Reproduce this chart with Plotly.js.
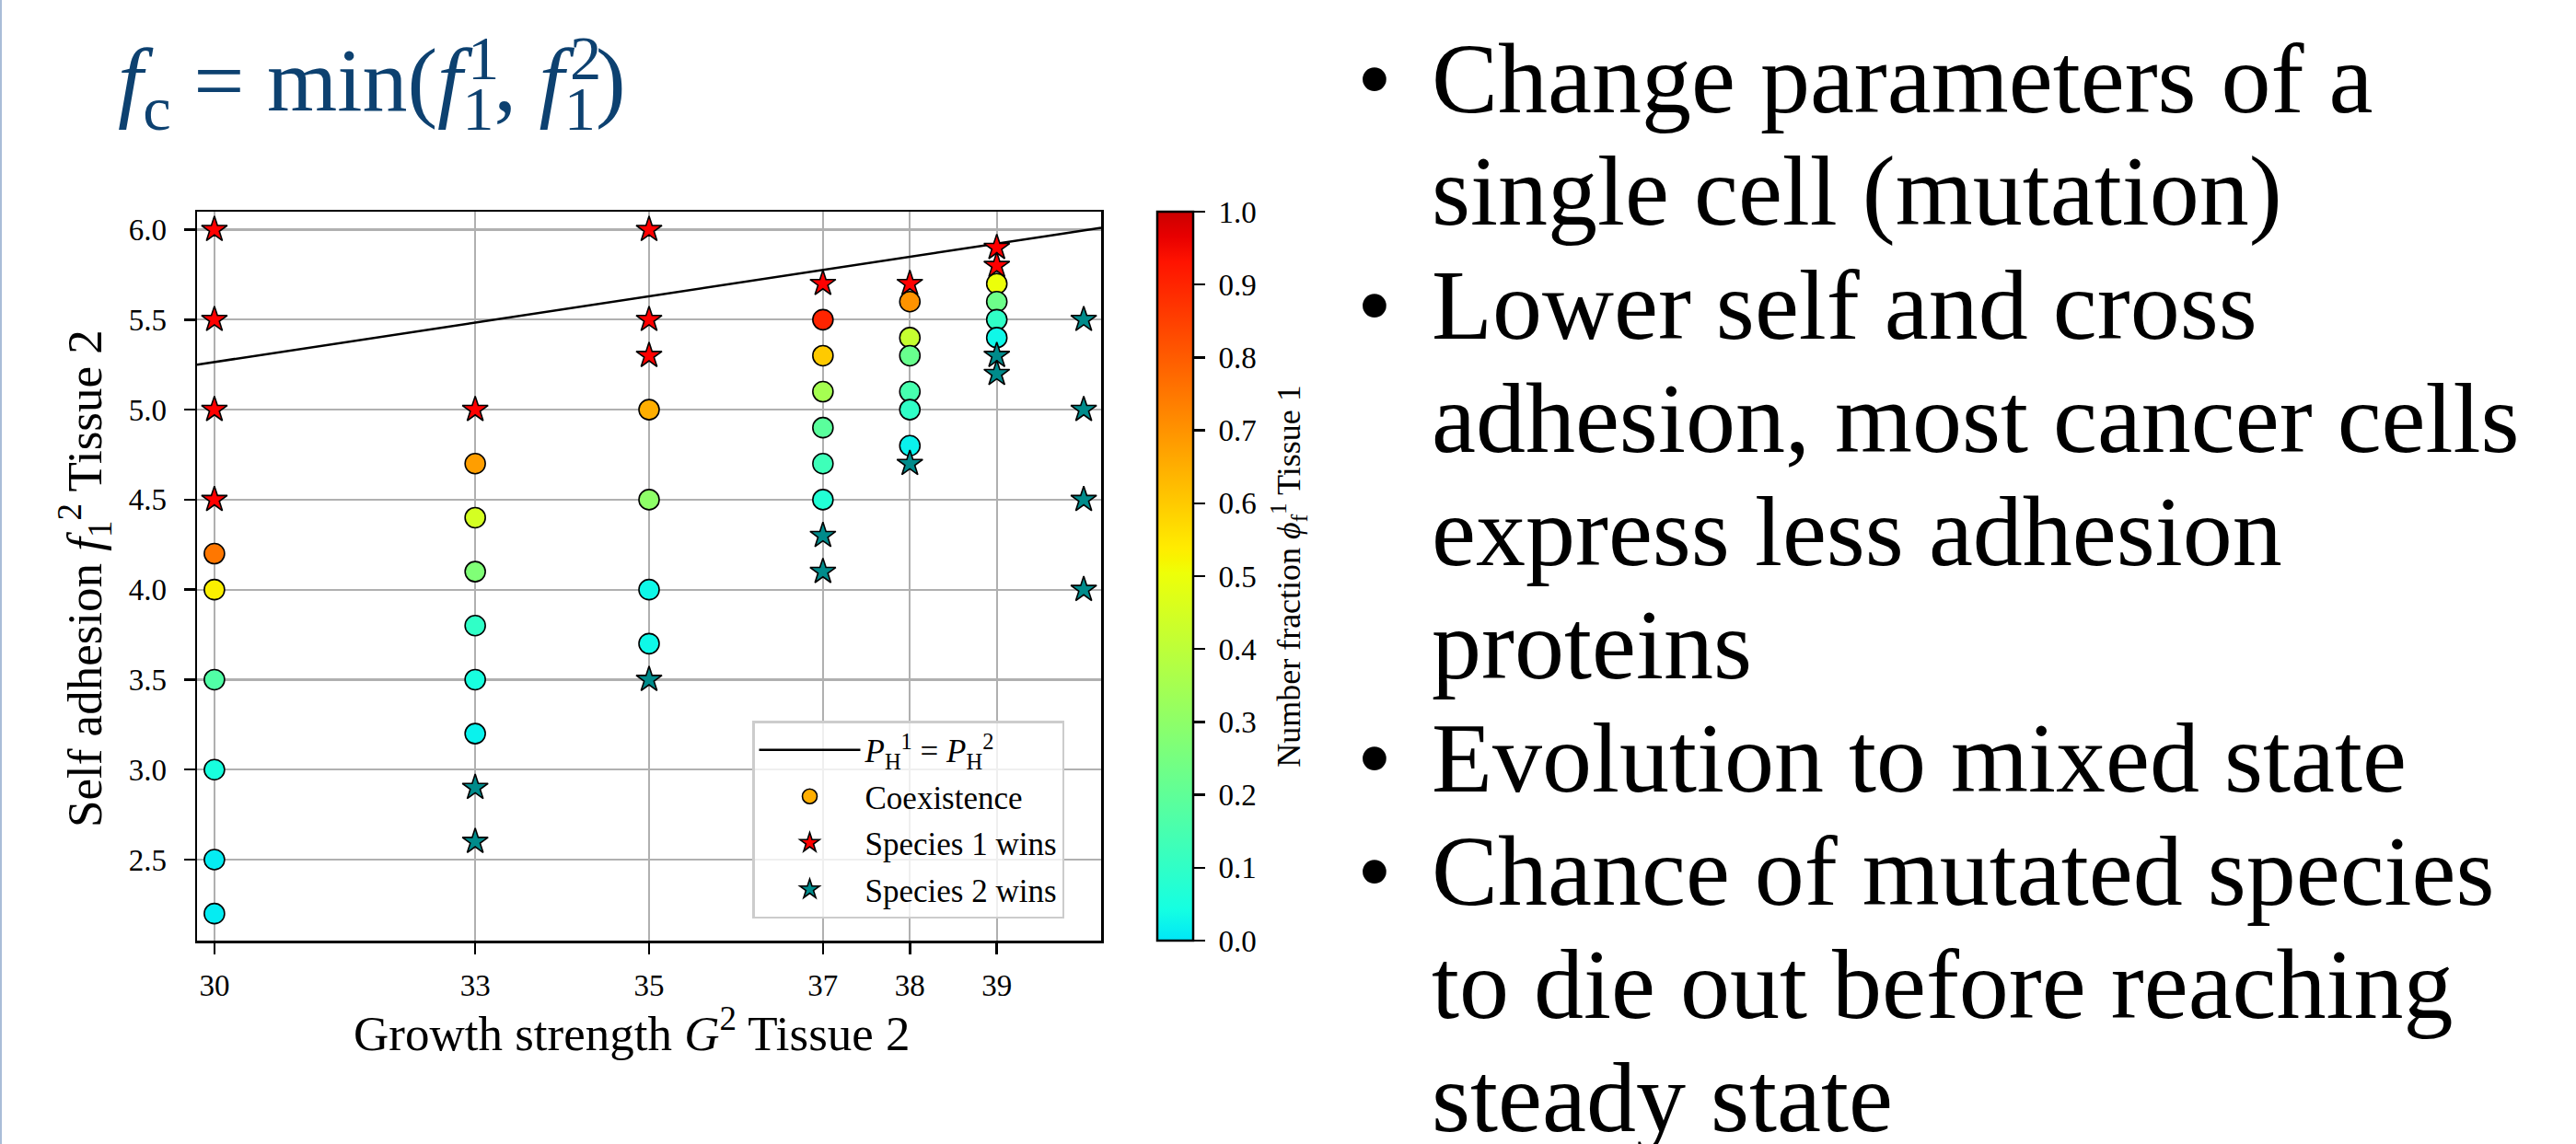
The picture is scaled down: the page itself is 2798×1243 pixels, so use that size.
<!DOCTYPE html>
<html>
<head>
<meta charset="utf-8">
<script src="https://cdn.plot.ly/plotly-3.0.1.min.js"></script>
<style>
html, body { margin: 0; padding: 0; background: #ffffff; }
#chart { width: 2798px; height: 1243px; }
</style>
</head>
<body>
<div id="chart"></div>
<script>
// ---------------- data ----------------
// Coexistence points (circles), coloured by number fraction of tissue 1
const coexX = [35, 35, 35, 35,
               30, 30, 30, 30, 30, 30,
               33, 33, 33, 33, 33, 33,
               37, 37, 37, 37, 37, 37,
               38, 38, 38, 38, 38, 38,
               39, 39, 39, 39];
const coexY = [5.0, 4.5, 4.0, 3.7,
               4.2, 4.0, 3.5, 3.0, 2.5, 2.2,
               4.7, 4.4, 4.1, 3.8, 3.5, 3.2,
               5.5, 5.3, 5.1, 4.9, 4.7, 4.5,
               5.6, 5.4, 5.3, 5.1, 5.0, 4.8,
               5.7, 5.6, 5.5, 5.4];
const coexPhi = [0.65, 0.30, 0.03, 0.03,
                 0.75, 0.53, 0.17, 0.05, 0.01, 0.01,
                 0.68, 0.45, 0.27, 0.10, 0.05, 0.02,
                 0.90, 0.60, 0.35, 0.19, 0.13, 0.07,
                 0.70, 0.42, 0.22, 0.15, 0.10, 0.02,
                 0.50, 0.23, 0.10, 0.03];

// Species 1 wins (red stars)
const s1X = [30, 30, 30, 30, 33, 35, 35, 35, 37, 38, 39, 39];
const s1Y = [6.0, 5.5, 5.0, 4.5, 5.0, 6.0, 5.5, 5.3, 5.7, 5.7, 5.9, 5.8];

// Species 2 wins (teal stars)
const s2X = [33, 33, 35, 37, 37, 38, 39, 39, 40, 40, 40, 40];
const s2Y = [2.9, 2.6, 3.5, 4.3, 4.1, 4.7, 5.3, 5.2, 5.5, 5.0, 4.5, 4.0];

// Boundary line P_H^1 = P_H^2
const lineX = [29.8, 40.2];
const lineY = [5.25, 6.01];

// Ticks
const xTickVals = [30, 33, 35, 37, 38, 39];
const xTickText = ['30', '33', '35', '37', '38', '39'];
const yTickVals = [2.5, 3.0, 3.5, 4.0, 4.5, 5.0, 5.5, 6.0];
const yTickText = ['2.5', '3.0', '3.5', '4.0', '4.5', '5.0', '5.5', '6.0'];
const cbTickVals = [0, 0.1, 0.2, 0.3, 0.4, 0.5, 0.6, 0.7, 0.8, 0.9, 1.0];
const cbTickText = ['0.0', '0.1', '0.2', '0.3', '0.4', '0.5', '0.6', '0.7', '0.8', '0.9', '1.0'];

// Titles and slide text
const xTitle = 'Growth strength <i>G</i><sup>2</sup> Tissue 2';
const yTitle = 'Self adhesion <i>f</i><sub>1</sub><sup>2</sup> Tissue 2';
const cbTitle = 'Number fraction <i>ϕ</i><sub>f</sub><sup>1</sup> Tissue 1';
const formulaBase = '<i>f</i><sub>c</sub> = min(<i>f</i><sub>1</sub>, <i>f</i><sub>1</sub>)';
const formulaSups = ['1', '2'];
const bulletLines = [
  'Change parameters of a',
  'single cell (mutation)',
  'Lower self and cross',
  'adhesion, most cancer cells',
  'express less adhesion',
  'proteins',
  'Evolution to mixed state',
  'Chance of mutated species',
  'to die out before reaching',
  'steady state'
];
const bulletFlags = [true, false, true, false, false, false, true, true, false, false];

// ---------------- layout helpers ----------------
const FIG_W = 2798, FIG_H = 1243;
const PL = 214, PT = 230, PR = 1196, PB = 1022;
const PW = PR - PL, PH = PB - PT;
const px2x = p => (p - PL) / PW;
const px2y = p => 1 - (p - PT) / PH;

const FONT = 'Liberation Serif, Times New Roman, serif';
const NB = '\u00a0';

// jet colormap restricted to its upper range (cyan -> dark red)
const cmap = [
  [0.0, 'rgb(0,230,247)'],
  [0.0427, 'rgb(21,255,226)'],
  [0.5043, 'rgb(238,255,8)'],
  [0.5214, 'rgb(247,245,0)'],
  [0.5385, 'rgb(255,236,0)'],
  [0.9316, 'rgb(255,19,0)'],
  [0.9658, 'rgb(232,0,0)'],
  [1.0, 'rgb(203,0,0)']
];

const traces = [
  {
    type: 'scatter', mode: 'lines',
    x: lineX, y: lineY,
    line: { color: 'black', width: 2.5 },
    name: '<i>P</i><sub>H</sub><sup>1</sup> = <i>P</i><sub>H</sub><sup>2</sup>',
    legendgroup: 'g1',
    hoverinfo: 'skip'
  },
  {
    type: 'scatter', mode: 'markers',
    x: coexX, y: coexY,
    name: 'Coexistence',
    legendgroup: 'g2',
    marker: {
      symbol: 'circle', size: 22,
      color: coexPhi, colorscale: cmap, cmin: 0, cmax: 1,
      line: { color: 'black', width: 1.6 },
      colorbar: {
        x: px2x(1257), xanchor: 'left', xpad: 0,
        y: 0.5, yanchor: 'middle', len: 1, lenmode: 'fraction', ypad: 0,
        thickness: 39, thicknessmode: 'pixels',
        outlinewidth: 2.5, outlinecolor: 'black',
        ticks: 'outside', ticklen: 12, tickwidth: 2.5, tickcolor: 'black',
        tickmode: 'array', tickvals: cbTickVals,
        ticktext: cbTickText.map(t => NB + t + NB),
        tickfont: { family: FONT, size: 33, color: 'black' },
        title: {
          text: cbTitle,
          side: 'right',
          font: { family: FONT, size: 36, color: 'black' }
        }
      }
    }
  },
  {
    type: 'scatter', mode: 'markers',
    x: s1X, y: s1Y,
    name: 'Species 1 wins',
    legendgroup: 'g3',
    marker: { symbol: 'star', size: 21, color: '#ff0000', line: { color: 'black', width: 1.6 } }
  },
  {
    type: 'scatter', mode: 'markers',
    x: s2X, y: s2Y,
    name: 'Species 2 wins',
    legendgroup: 'g4',
    marker: { symbol: 'star', size: 21, color: '#008b8b', line: { color: 'black', width: 1.6 } }
  }
];

const annotations = [];
// axis titles (placed as annotations for exact positioning)
const TF = 53;
annotations.push({
  xref: 'paper', yref: 'paper',
  x: px2x(686), y: px2y(1119),
  xanchor: 'center', yanchor: 'middle',
  text: xTitle, showarrow: false,
  font: { family: FONT, size: TF, color: 'black' }
});
annotations.push({
  xref: 'paper', yref: 'paper',
  x: px2x(92), y: px2y(629),
  xanchor: 'center', yanchor: 'middle',
  textangle: -90,
  text: yTitle, showarrow: false,
  font: { family: FONT, size: TF, color: 'black' }
});

// formula: base line with subscripts, superscripts stacked above the subscripts
const FF = 98, FBASE = 121, FCOL = '#0d4170';
annotations.push({
  xref: 'paper', yref: 'paper',
  x: px2x(126), y: px2y(FBASE - 0.27 * FF),
  xanchor: 'left', yanchor: 'middle',
  text: formulaBase, showarrow: false,
  font: { family: FONT, size: FF, color: FCOL }
});
const supPx = [506, 617];
formulaSups.forEach((s, i) => {
  annotations.push({
    xref: 'paper', yref: 'paper',
    x: px2x(supPx[i]), y: px2y(86 - 0.34 * 0.7 * FF),
    xanchor: 'left', yanchor: 'middle',
    text: s, showarrow: false,
    font: { family: FONT, size: 0.7 * FF, color: FCOL }
  });
});

const BF = 108, BASE0 = 122, STEP = 123;
bulletLines.forEach((t, i) => {
  const base = BASE0 + i * STEP;
  annotations.push({
    xref: 'paper', yref: 'paper',
    x: px2x(1553), y: px2y(base - 0.34 * BF),
    xanchor: 'left', yanchor: 'middle', align: 'left',
    text: t, showarrow: false,
    font: { family: FONT, size: BF, color: 'black' }
  });
  if (bulletFlags[i]) {
    annotations.push({
      xref: 'paper', yref: 'paper',
      x: px2x(1493), y: px2y(base - 0.34 * BF),
      xanchor: 'center', yanchor: 'middle',
      text: '•', showarrow: false,
      font: { family: FONT, size: BF, color: 'black' }
    });
  }
});

const axisCommon = {
  ticks: 'outside', ticklen: 12, tickwidth: 2.5, tickcolor: 'black',
  showline: true, linecolor: 'black', linewidth: 2.5, mirror: true,
  showgrid: true, gridcolor: '#b0b0b0', gridwidth: 2.3,
  zeroline: false,
  tickfont: { family: FONT, size: 33, color: 'black' },
  tickmode: 'array'
};

const layout = {
  width: FIG_W, height: FIG_H,
  margin: { l: PL, r: FIG_W - PR, t: PT, b: FIG_H - PB, pad: 0 },
  paper_bgcolor: '#ffffff', plot_bgcolor: '#ffffff',
  font: { family: FONT, color: 'black', size: 33 },
  showlegend: true,
  xaxis: Object.assign({}, axisCommon, {
    range: [29.8, 40.2], tickvals: xTickVals, ticktext: xTickText,
    ticklabelstandoff: 6
  }),
  yaxis: Object.assign({}, axisCommon, {
    range: [2.05, 6.10], tickvals: yTickVals, ticktext: yTickText,
    ticklabelstandoff: 12
  }),
  legend: {
    x: px2x(817), y: px2y(783), xanchor: 'left', yanchor: 'top',
    bgcolor: 'rgba(255,255,255,0.8)', bordercolor: '#cccccc', borderwidth: 2.5,
    font: { family: FONT, size: 35, color: 'black' },
    itemwidth: 110,
    traceorder: 'grouped', tracegroupgap: 2
  },
  annotations: annotations,
  shapes: [{
    type: 'line', xref: 'paper', yref: 'paper',
    x0: px2x(1), x1: px2x(1), y0: px2y(0), y1: px2y(FIG_H),
    line: { color: '#a9bdd8', width: 2 }
  }]
};

Plotly.newPlot('chart', traces, layout, { displayModeBar: false, staticPlot: true });
</script>
</body>
</html>
